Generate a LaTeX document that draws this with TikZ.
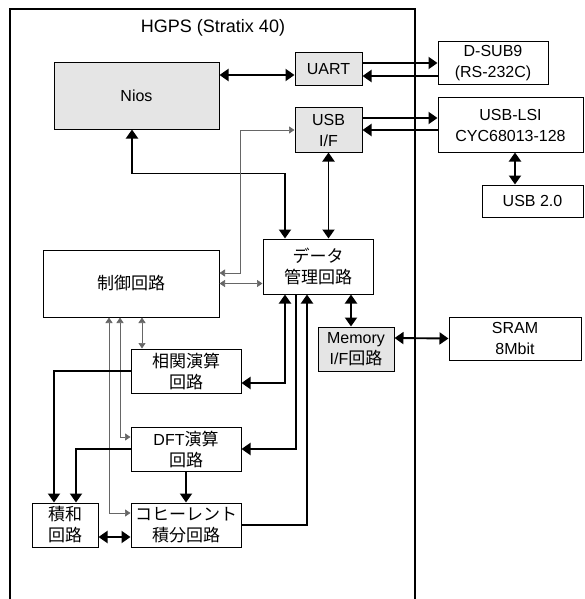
\documentclass[tikz,border=0pt]{standalone}
\usepackage{fontspec}
\setmainfont{Liberation Sans}
\newfontfamily\jpfont{Noto Sans CJK JP}
\newcommand\jp{\jpfont\fontsize{17}{21}\selectfont}
\usetikzlibrary{arrows.meta}

\begin{document}
\begin{tikzpicture}[x=1pt, y=-1pt,
  every node/.style={inner sep=0pt, align=center, font=\fontsize{16}{21}\selectfont},
  blk/.style 2 args={draw, line width=1pt, minimum width=#1, minimum height=#2},
  gblk/.style 2 args={blk={#1}{#2}, fill=black!10},
  bus/.style={line width=1.9pt, >={Triangle[length=9pt,width=12pt]}},
  sig/.style={line width=0.7pt, draw=black!60, >={Triangle[length=5.5pt,width=7pt]}}]
  \useasboundingbox (0,0) rectangle (584,599);
  \draw[line width=1.5pt] (10,599) -- (10,9) -- (415,9) -- (415,599);
  \node[font=\fontsize{18}{21}\selectfont] (title) at (213,28) {HGPS (Stratix 40)};

  \node[gblk={165}{66}] (nios) at (136.5,96) {Nios};
  \node[gblk={67}{33}] (uart) at (328.5,69.5) {UART};
  \node[gblk={67}{44}] (usbif) at (328.5,130) {USB\\I/F};
  \node[blk={110}{43}] (dsub) at (493,63.5) {D-SUB9\\(RS-232C)};
  \node[blk={145}{54}] (usblsi) at (510.5,125) {USB-LSI\\CYC68013-128};
  \node[blk={101}{32}] (usb) at (532.5,201) {USB 2.0};
  \node[blk={110}{55}] (data) at (318,266.5) {{\jp データ}\\{\jp 管理回路}};
  \node[blk={176}{67}] (ctrl) at (131,283.5) {\jp 制御回路};
  \node[gblk={76}{44}] (memif) at (356,349) {Memory\\I/F{\jp 回路}};
  \node[blk={132}{43}] (sram) at (515,338.5) {SRAM\\8Mbit};
  \node[blk={110}{44}] (corr) at (186,371) {{\jp 相関演算}\\{\jp 回路}};
  \node[blk={110}{44}] (dft) at (186,449) {DFT{\jp 演算}\\{\jp 回路}};
  \node[blk={66}{44}] (sum) at (65,525) {{\jp 積和}\\{\jp 回路}};
  \node[blk={110}{44}] (coh) at (186,525) {{\jp コヒーレント}\\{\jp 積分回路}};

  \draw[bus,<->] ([yshift=21pt]nios.east) -- ([yshift=-5.5pt]uart.west);
  \draw[bus,->] ([yshift=6.5pt]uart.east) -- ([yshift=0.5pt]dsub.west);
  \draw[bus,->] ([yshift=-12.5pt]dsub.west) -- ([yshift=-6.5pt]uart.east);
  \draw[bus,->] ([yshift=12pt]usbif.east) -- ([yshift=7pt]usblsi.west);
  \draw[bus,->] ([yshift=-5pt]usblsi.west) -- (usbif.east);
  \draw[bus,<->] ([xshift=4.5pt]usblsi.south) -- ([xshift=-17.5pt]usb.north);
  \draw[bus,<->] ([xshift=-4.5pt]nios.south) -- ++(0,44) -| ([xshift=-33pt]data.north);
  \draw[bus,<->] (usbif.south) -- ([xshift=10.5pt]data.north);
  \draw[sig,<->] ([yshift=10.5pt]ctrl.east) -- ++(21,0) |- (usbif.west);
  \draw[sig,<->] (ctrl.east) -- (ctrl.east -| data.west);
  \draw[bus,<->] ([xshift=33pt]data.south) -- ([xshift=-5pt]memif.north);
  \draw[bus,<->] ([yshift=11pt]memif.east) -- (sram.west);
  \draw[bus,<->] ([xshift=-33pt]data.south) |- ([yshift=-12pt]corr.east);
  \draw[bus,->] ([xshift=-22pt]data.south) |- (dft.east);
  \draw[bus,->] (coh.east) -| ([xshift=-11pt]data.south);
  \draw[sig,<->] ([xshift=11pt]ctrl.south) -- ([xshift=-44pt]corr.north);
  \draw[sig,<->] ([xshift=-11pt]ctrl.south) |- ([yshift=12pt]dft.west);
  \draw[sig,<->] ([xshift=-22pt]ctrl.south) |- ([yshift=12pt]coh.west);
  \draw[bus,->] (corr.west) -| ([xshift=-11pt]sum.north);
  \draw[bus,->] (dft.west) -| ([xshift=11pt]sum.north);
  \draw[bus,->] (dft.south) -- (coh.north);
  \draw[bus,<->] ([yshift=-12pt]sum.east) -- ([yshift=-12pt]coh.west);
\end{tikzpicture}
\end{document}
